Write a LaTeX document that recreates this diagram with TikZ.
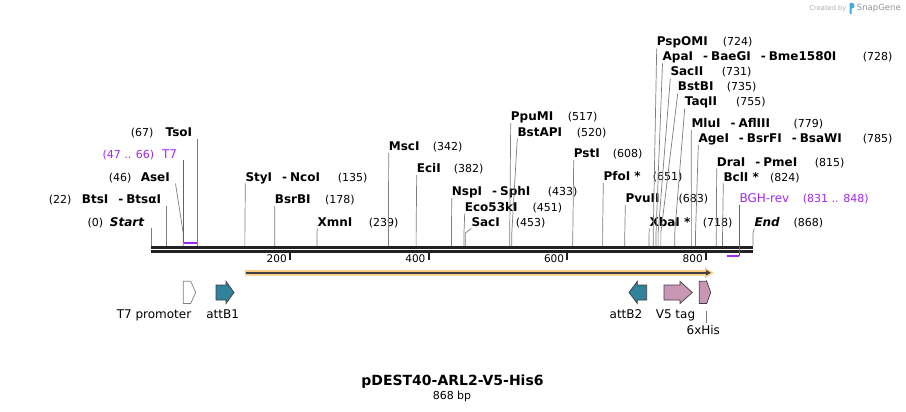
\documentclass[tikz,border=0pt]{standalone}
\usepackage{fontspec}
\setmainfont{DejaVu Sans}
\usetikzlibrary{arrows.meta,calc}
\definecolor{cutgray}{RGB}{125,125,125}
\definecolor{primerc}{RGB}{160,40,240}
\definecolor{attc}{RGB}{49,130,155}
\definecolor{tagc}{RGB}{201,151,180}
\definecolor{orfc}{RGB}{250,202,125}
\definecolor{bbc}{RGB}{34,34,34}
\definecolor{logoc}{RGB}{70,168,222}
\newcommand{\bpx}[1]{151.3+0.6933*#1}
\newcommand{\enzsep}{\hspace{10pt}-\hspace{3pt}}
\tikzset{
  enzyme/.style={font=\fontsize{12}{14}\selectfont\bfseries, inner sep=0pt, anchor=base west},
  enzyme left/.style={enzyme, anchor=base east},
  sitenum/.style={font=\fontsize{11}{13}\selectfont, inner sep=0pt, anchor=base west},
  primerlbl/.style={font=\fontsize{12}{14}\selectfont, text=primerc, inner sep=0pt, anchor=base west},
  primernum/.style={sitenum, text=primerc},
  cutline/.style={draw=cutgray, line width=0.7pt},
  primerline/.style={draw=primerc, line width=1pt},
  primerbar/.style={draw=primerc, line width=2pt},
  backbone/.style={draw=bbc, line width=2.6pt},
  tickmark/.style={draw=bbc, line width=2pt},
  ticklbl/.style={font=\fontsize{10.5}{12}\selectfont, inner sep=0pt, anchor=base east},
  feat/.style={draw=black!75, line width=0.7pt, line join=miter},
  featlbl/.style={font=\fontsize{12}{14}\selectfont, inner sep=0pt, anchor=base},
}
\begin{document}
\begin{tikzpicture}[x=1pt,y=-1pt]
  \useasboundingbox (0,0) rectangle (906,412);

  \foreach \b in {0,22,46,67,135,178,239,342,382,433,451,453,517,520,608,651,683,718,724,728,731,735,755,779,785,815,824,868} {
    \coordinate (s\b) at ({\bpx{\b}},246);
    \coordinate (k\b) at ({\bpx{\b}},233);
  }
  \coordinate (bb0) at ({\bpx{0}},247.3);
  \coordinate (bb868) at ({\bpx{868}},247.3);

  \draw[backbone] (bb0) -- (bb868);
  \draw[backbone] ([yshift=-4.4pt]bb0) -- ([yshift=-4.4pt]bb868);

  \foreach \t in {200,400,600,800} {
    \coordinate (t\t) at ({\bpx{\t}},253);
    \draw[tickmark] (t\t) -- ++(0,7);
    \node[ticklbl] (tl\t) at ([xshift=-3pt,yshift=-9.7pt]t\t) {\t};
  }

  \node[enzyme left] (start) at (144.3,226) {\itshape Start};
  \node[sitenum] (startnum) at (87.3,226) {(0)};
  \node[enzyme left] (btsi) at (161.3,203.3) {BtsI\enzsep BtsαI};
  \node[sitenum] (btsinum) at (48.7,203.3) {(22)};
  \node[enzyme left] (asei) at (170,181) {AseI};
  \node[sitenum] (aseinum) at (108.7,181) {(46)};
  \node[primerlbl, anchor=base east] (t7) at (177.3,158.3) {T7};
  \node[primernum] (t7num) at (102.3,158.3) {(47 .. 66)};
  \node[enzyme left] (tsoi) at (192.3,136) {TsoI};
  \node[sitenum] (tsoinum) at (130.7,136) {(67)};

  \draw[cutline] ($(start.base east -| s0)+(0,1.5)$) -- (s0);
  \draw[cutline] ($(btsi.base east -| s22)+(0,2.5)$) -- (s22);
  \draw[cutline] ([xshift=5.5pt,yshift=-2.5pt]asei.base east) -- (k46) -- (s46);
  \draw[cutline] ($(tsoi.base east -| s67)+(0,2.5)$) -- (s67);
  \coordinate (p47) at ({\bpx{47}},242.7);
  \coordinate (p66) at ({\bpx{66}},242.7);
  \draw[primerline] ($(t7.base east -| p47)+(0,2)$) -- (p47);
  \draw[primerbar] (p47) -- (p66);

  \node[enzyme] (styi) at (245.3,181) {StyI\enzsep NcoI};
  \node[sitenum] (styinum) at (337.7,181) {(135)};
  \node[enzyme] (bsrbi) at (274.7,203.3) {BsrBI};
  \node[sitenum] (bsrbinum) at (325,203.3) {(178)};
  \node[enzyme] (xmni) at (317.3,226) {XmnI};
  \node[sitenum] (xmninum) at (368.7,226) {(239)};
  \node[enzyme] (msci) at (388.7,150.7) {MscI};
  \node[sitenum] (mscinum) at (432.7,150.7) {(342)};
  \node[enzyme] (ecii) at (416.7,172.7) {EciI};
  \node[sitenum] (eciinum) at (453.7,172.7) {(382)};
  \node[enzyme] (nspi) at (451.7,195.7) {NspI\enzsep SphI};
  \node[sitenum] (nspinum) at (547.7,195.7) {(433)};
  \node[enzyme] (eco53ki) at (464.7,211) {Eco53kI};
  \node[sitenum] (eco53kinum) at (532.3,211) {(451)};
  \node[enzyme] (saci) at (471.3,226) {SacI};
  \node[sitenum] (sacinum) at (515.7,226) {(453)};
  \node[enzyme] (ppumi) at (510.7,120.7) {PpuMI};
  \node[sitenum] (ppuminum) at (567.7,120.7) {(517)};
  \node[enzyme] (bstapi) at (517.3,136) {BstAPI};
  \node[sitenum] (bstapinum) at (576.7,136) {(520)};
  \node[enzyme] (psti) at (573.7,157.5) {PstI};
  \node[sitenum] (pstinum) at (612.7,157.5) {(608)};
  \node[enzyme] (pfoi) at (603.3,180.5) {PfoI *};
  \node[sitenum] (pfoinum) at (652.7,180.5) {(651)};
  \node[enzyme] (pvuii) at (625.3,202.7) {PvuII};
  \node[sitenum] (pvuiinum) at (678.3,202.7) {(683)};
  \node[enzyme] (xbai) at (649.3,226) {XbaI *};
  \node[sitenum] (xbainum) at (702.7,226) {(718)};
  \node[enzyme] (pspomi) at (656.7,46) {PspOMI};
  \node[sitenum] (pspominum) at (722.7,46) {(724)};
  \node[enzyme] (apai) at (662.5,61) {ApaI\enzsep BaeGI\enzsep Bme1580I};
  \node[sitenum] (apainum) at (862.7,61) {(728)};
  \node[enzyme] (sacii) at (670.3,76) {SacII};
  \node[sitenum] (saciinum) at (721.7,76) {(731)};
  \node[enzyme] (bstbi) at (677.7,91) {BstBI};
  \node[sitenum] (bstbinum) at (726.7,91) {(735)};
  \node[enzyme] (taqii) at (684.7,106) {TaqII};
  \node[sitenum] (taqiinum) at (736,106) {(755)};
  \node[enzyme] (mlui) at (691.3,127.7) {MluI\enzsep AflIII};
  \node[sitenum] (mluinum) at (793.3,127.7) {(779)};
  \node[enzyme] (agei) at (698.3,142.7) {AgeI\enzsep BsrFI\enzsep BsaWI};
  \node[sitenum] (ageinum) at (862.7,142.7) {(785)};
  \node[enzyme] (drai) at (716.7,166) {DraI\enzsep PmeI};
  \node[sitenum] (drainum) at (814.7,166) {(815)};
  \node[enzyme] (bcli) at (723.3,181) {BclI *};
  \node[sitenum] (bclinum) at (770,181) {(824)};
  \node[primerlbl] (bgh) at (739.3,202.7) {BGH-rev};
  \node[primernum] (bghnum) at (802.7,202.7) {(831 .. 848)};
  \node[enzyme] (endlbl) at (754.3,226) {\itshape End};
  \node[sitenum] (endnum) at (793.3,226) {(868)};

  \draw[cutline] ([yshift=-2.5pt]styi.base west) -- (k135) -- (s135);
  \draw[cutline] ([yshift=-2.5pt]bsrbi.base west) -- (k178) -- (s178);
  \draw[cutline] ([yshift=-2.5pt]xmni.base west) -- (k239) -- (s239);
  \draw[cutline] ([yshift=-2.5pt]msci.base west) -- (k342) -- (s342);
  \draw[cutline] ([yshift=-2.5pt]ecii.base west) -- (k382) -- (s382);
  \draw[cutline] ([yshift=-2.5pt]nspi.base west) -- (k433) -- (s433);
  \draw[cutline] ([yshift=-2.5pt]eco53ki.base west) -- (k451) -- (s451);
  \draw[cutline] ([yshift=-2.5pt]saci.base west) -- (k453) -- (s453);
  \draw[cutline] ([yshift=-2.5pt]ppumi.base west) -- (k517) -- (s517);
  \draw[cutline] ([yshift=-2.5pt]bstapi.base west) -- (k520) -- (s520);
  \draw[cutline] ([yshift=-2.5pt]psti.base west) -- (k608) -- (s608);
  \draw[cutline] ([yshift=-2.5pt]pfoi.base west) -- (k651) -- (s651);
  \draw[cutline] ([yshift=-2.5pt]pvuii.base west) -- (k683) -- (s683);
  \draw[cutline] ([yshift=-2.5pt]xbai.base west) -- (k718) -- (s718);
  \draw[cutline] ([yshift=-2.5pt]pspomi.base west) -- (k724) -- (s724);
  \draw[cutline] ([yshift=-2.5pt]apai.base west) -- (k728) -- (s728);
  \draw[cutline] ([yshift=-2.5pt]sacii.base west) -- (k731) -- (s731);
  \draw[cutline] ([yshift=-2.5pt]bstbi.base west) -- (k735) -- (s735);
  \draw[cutline] ([yshift=-2.5pt]taqii.base west) -- (k755) -- (s755);
  \draw[cutline] ([yshift=-2.5pt]mlui.base west) -- (k779) -- (s779);
  \draw[cutline] ([yshift=-2.5pt]agei.base west) -- (k785) -- (s785);
  \draw[cutline] ([yshift=-2.5pt]drai.base west) -- (k815) -- (s815);
  \draw[cutline] ([yshift=-2.5pt]bcli.base west) -- (k824) -- (s824);
  \draw[cutline] ([yshift=-2.5pt]endlbl.base west) -- (k868) -- (s868);
  \coordinate (p831) at ({\bpx{831}},256);
  \coordinate (p848) at ({\bpx{848}},256);
  \draw[primerline] ($(bgh.base west -| p848)+(0,2.5)$) -- (p848);
  \draw[primerbar] (p848) -- (p831);

  \fill[orfc] (245,270) -- (705,270) -- (705,267.5) -- (713.5,272.8) -- (705,278) -- (705,275.5) -- (245,275.5) -- cycle;
  \draw[draw=black!75, line width=1.6pt, -{Triangle[length=5pt,width=5pt]}] (245.5,272.8) -- (711,272.8);

  \draw[feat, draw=black!50, fill=white] (183.3,281.3) -- (190.7,281.3) -- (195.7,292.5) -- (190.7,303.5) -- (183.3,303.5) -- cycle;
  \draw[feat, fill=attc] (216,285) -- (226,285) -- (226,281.3) -- (234,292.5) -- (226,303.5) -- (226,300) -- (216,300) -- cycle;
  \draw[feat, fill=attc] (646.7,285) -- (637.3,285) -- (637.3,281.3) -- (629,292.5) -- (637.3,303.5) -- (637.3,300) -- (646.7,300) -- cycle;
  \draw[feat, fill=tagc] (664,285) -- (680,285) -- (680,281.3) -- (692.3,292.5) -- (680,303.5) -- (680,300) -- (664,300) -- cycle;
  \draw[feat, fill=tagc] (699.3,281.3) -- (706.7,281.3) -- (710.7,292.5) -- (706.7,303.5) -- (699.3,303.5) -- cycle;

  \node[featlbl] (t7prom) at (154,318.3) {T7 promoter};
  \node[featlbl] (attbone) at (222.7,318.3) {attB1};
  \node[featlbl] (attbtwo) at (626,318.3) {attB2};
  \node[featlbl] (vfive) at (675.5,318.3) {V5 tag};
  \node[featlbl] (sixhis) at (703.3,334) {6xHis};
  \coordinate (hisleader) at (706,311.3);
  \draw[cutline] (hisleader) -- ($(hisleader |- sixhis.north)+(0,-1.5)$);
  \draw[cutline] (706,279.5) -- (706,281.3);

  \node[font=\fontsize{14}{16}\selectfont\bfseries, inner sep=0pt, anchor=base] (title) at (452.5,385.7) {pDEST40-ARL2-V5-His6};
  \node[font=\fontsize{11}{13}\selectfont, inner sep=0pt, anchor=base] (length) at (452,399) {868 bp};

  \node[font=\fontsize{6.7}{8}\selectfont, text=black!32, inner sep=0pt, anchor=base west] (created) at (809.3,10.5) {Created by};
  \fill[logoc] (849.5,14) -- (849.5,3) -- (852.3,3) .. controls (855.2,3) and (855.2,8.5) .. (852.3,8.5) -- (851.6,8.5) -- (851.6,14) -- cycle;
  \node[font=\fontsize{8.5}{10}\selectfont, text=black!42, inner sep=0pt, anchor=base west] (snapgene) at (856.7,10.5) {SnapGene};
\end{tikzpicture}
\end{document}
